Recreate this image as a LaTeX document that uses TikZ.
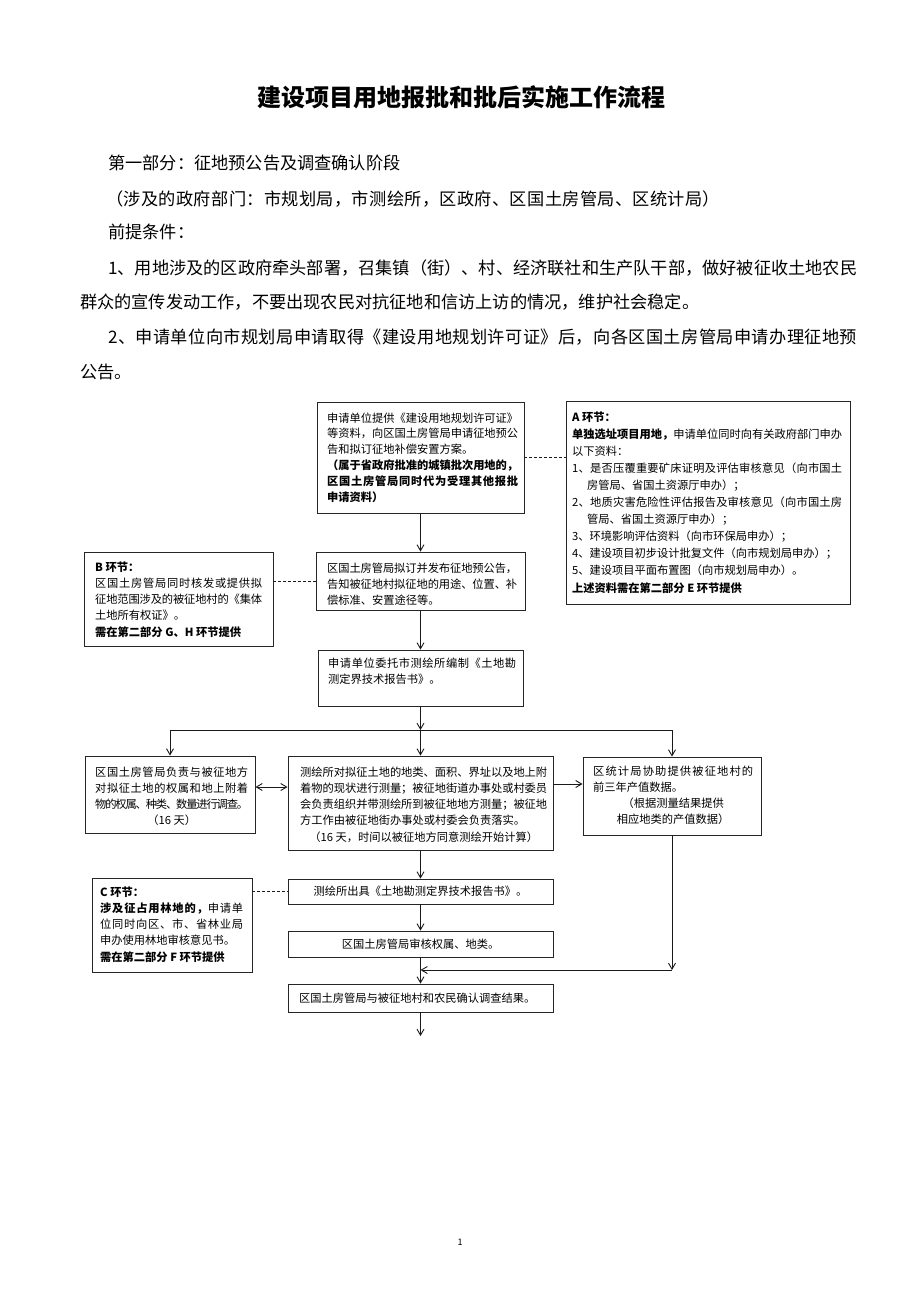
\documentclass[tikz,border=0pt]{standalone}
\usepackage{fontspec}
\setmainfont{Noto Sans CJK SC}
\usetikzlibrary{arrows.meta,calc}
\XeTeXinterchartokenstate=1
\count255="4E00
\loop\XeTeXcharclass\count255=1 \advance\count255 by 1 \ifnum\count255<"A000 \repeat
\XeTeXcharclass"3001=3 \XeTeXcharclass"3002=3 \XeTeXcharclass"FF0C=3
\XeTeXcharclass"FF1A=3 \XeTeXcharclass"FF1B=3 \XeTeXcharclass"FF09=3
\XeTeXcharclass"300B=3 \XeTeXcharclass"FF08=2 \XeTeXcharclass"300A=2
\def\cjkg{\nobreak\hskip0pt plus 4pt minus 1.5pt\relax}
\XeTeXinterchartoks 0 1 = {\cjkg}
\XeTeXinterchartoks 0 2 = {\cjkg}
\XeTeXinterchartoks 0 3 = {\cjkg}
\XeTeXinterchartoks 1 0 = {\cjkg}
\XeTeXinterchartoks 1 1 = {\cjkg}
\XeTeXinterchartoks 1 2 = {\cjkg}
\XeTeXinterchartoks 1 3 = {\cjkg}
\XeTeXinterchartoks 2 0 = {\cjkg}
\XeTeXinterchartoks 2 1 = {\cjkg}
\XeTeXinterchartoks 2 2 = {\cjkg}
\XeTeXinterchartoks 2 3 = {\cjkg}
\XeTeXinterchartoks 3 0 = {\cjkg}
\XeTeXinterchartoks 3 1 = {\cjkg}
\XeTeXinterchartoks 3 2 = {\cjkg}
\XeTeXinterchartoks 3 3 = {\cjkg}
\begin{document}
\begin{tikzpicture}[x=1pt,y=-1pt,
  box/.style={draw=black!85, line width=0.9pt, inner sep=0pt},
  txt/.style={inner sep=0pt, anchor=base west, align=justify, font=\fontsize{11.25pt}{16.3pt}\selectfont},
  txtA/.style={txt, font=\fontsize{11.25pt}{17.1pt}\selectfont},
  txt1/.style={txt, font=\fontsize{11.25pt}{15.8pt}\selectfont},
  ctxt/.style={inner sep=0pt, font=\fontsize{11.25pt}{16.3pt}\selectfont},
  body/.style={anchor=base west, inner sep=0pt, font=\fontsize{17.2pt}{20pt}\selectfont},
  ln/.style={line width=0.9pt, black!90},
  arr/.style={ln, -{Straight Barb[length=6pt,width=7pt]}},
  darr/.style={ln, {Straight Barb[length=6pt,width=7pt]}-{Straight Barb[length=6pt,width=7pt]}},
  dsh/.style={ln, dash pattern=on 3pt off 2pt}
]
\useasboundingbox (0,0) rectangle (920,1302);
\fill[white] (0,0) rectangle (920,1302);

% title and text
\node[anchor=base, inner sep=0pt, font=\fontsize{24pt}{28pt}\selectfont\bfseries] (title) at (461.5,106) {建设项目用地报批和批后实施工作流程};
\node[body] (p0) at (108,169.5) {第一部分：征地预公告及调查确认阶段};
\node[body] (p1) at (106,205.5) {\hbox to 614pt{（涉及的政府部门：市规划局，市测绘所，区政府、区国土房管局、区统计局）}};
\node[body] (p2) at (108,238.5) {前提条件：};
\node[body] (p3) at (108,274.5) {\hbox to 749pt{1、用地涉及的区政府牵头部署，召集镇（街）、村、经济联社和生产队干部，做好被征收土地农民}};
\node[body] (p4) at (80,308.5) {群众的宣传发动工作，不要出现农民对抗征地和信访上访的情况，维护社会稳定。};
\node[body] (p5) at (108,343.5) {\hbox to 749pt{2、申请单位向市规划局申请取得《建设用地规划许可证》后，向各区国土房管局申请办理征地预}};
\node[body] (p6) at (80,378.5) {公告。};

% boxes
\node[box, minimum width=207pt, minimum height=111pt] (b1) at (420.5,457.5) {};
\node[box, minimum width=284pt, minimum height=203pt] (bA) at (708,502.5) {};
\node[box, minimum width=209pt, minimum height=58pt] (b2) at (420.5,581) {};
\node[box, minimum width=189pt, minimum height=94pt] (bB) at (178.5,599) {};
\node[box, minimum width=205pt, minimum height=56pt] (b3) at (420.5,678) {};
\node[box, minimum width=170pt, minimum height=77pt] (r4L) at (170,794.5) {};
\node[box, minimum width=265pt, minimum height=94pt] (r4C) at (420.5,803) {};
\node[box, minimum width=178pt, minimum height=78pt] (r4R) at (672,796) {};
\node[box, minimum width=265pt, minimum height=25pt] (b5) at (420.5,891.5) {};
\node[box, minimum width=265pt, minimum height=26pt] (b6) at (420.5,944) {};
\node[box, minimum width=160pt, minimum height=94pt] (bC) at (172,925) {};
\node[box, minimum width=265pt, minimum height=28pt] (b7) at (420.5,998) {};

% box texts
\node[txt1, text width=191pt] (t1) at (327,422) {申请单位提供《建设用地规划许可证》\linebreak 等资料，向区国土房管局申请征地预公\linebreak 告和拟订征地补偿安置方案。\par{\bfseries （属于省政府批准的城镇批次用地的，\linebreak 区国土房管局同时代为受理其他报批\linebreak 申请资料）}};
\node[txtA, text width=270pt] (tA) at (572,421) {{\bfseries A 环节：}\\{\bfseries 单独选址项目用地，}申请单位同时向有关政府部门申办\linebreak 以下资料：\\1、是否压覆重要矿床证明及评估审核意见（向市国土\linebreak\hspace*{15pt}房管局、省国土资源厅申办）；\\2、地质灾害危险性评估报告及审核意见（向市国土房\linebreak\hspace*{15pt}管局、省国土资源厅申办）；\\3、环境影响评估资料（向市环保局申办）；\\4、建设项目初步设计批复文件（向市规划局申办）；\\5、建设项目平面布置图（向市规划局申办）。\\{\bfseries 上述资料需在第二部分 E 环节提供}};
\node[txt, text width=167pt] (tB) at (95,571) {{\bfseries B 环节：}\\区国土房管局同时核发或提供拟\linebreak 征地范围涉及的被征地村的《集体\linebreak 土地所有权证》。\\{\bfseries 需在第二部分 G、H 环节提供}};
\node[txt, text width=190pt] (t2) at (327,572) {区国土房管局拟订并发布征地预公告，\linebreak 告知被征地村拟征地的用途、位置、补\linebreak 偿标准、安置途径等。};
\node[txt, text width=188pt] (t3) at (328,667) {申请单位委托市测绘所编制《土地勘\linebreak 测定界技术报告书》。};
\node[txt, text width=153pt] (tL) at (95,776) {区国土房管局负责与被征地方\linebreak 对拟征土地的权属和地上附着\linebreak 物的权属、种类、数量进行调查。\par\makebox[\hsize][c]{（16 天）}};
\node[txt, text width=247pt] (tC) at (300,776) {测绘所对拟征土地的地类、面积、界址以及地上附\linebreak 着物的现状进行测量；被征地街道办事处或村委员\linebreak 会负责组织并带测绘所到被征地地方测量；被征地\linebreak 方工作由被征地街办事处或村委会负责落实。\par\makebox[\hsize][c]{（16 天，时间以被征地方同意测绘开始计算）}};
\node[txt, text width=160pt] (tR) at (593,775) {区统计局协助提供被征地村的\linebreak 前三年产值数据。\par\makebox[\hsize][c]{（根据测量结果提供}\par\makebox[\hsize][c]{相应地类的产值数据）}};
\node[ctxt] (t5) at (b5) {测绘所出具《土地勘测定界技术报告书》。};
\node[ctxt] (t6) at (b6) {区国土房管局审核权属、地类。};
\node[txt, text width=143pt] (tCC) at (100,896) {{\bfseries C 环节：}\\{\bfseries 涉及征占用林地的，}申请单\linebreak 位同时向区、市、省林业局\linebreak 申办使用林地审核意见书。\\{\bfseries 需在第二部分 F 环节提供}};
\node[txt] (t7) at (299,1002) {区国土房管局与被征地村和农民确认调查结果。};

\node[inner sep=0pt, font=\fontsize{9pt}{10pt}\selectfont] (pg) at (460,1242) {1};

% connectors
\draw[dsh] (b1.east) -- (b1.east -| bA.west);
\draw[arr] (b1.south) -- (b2.north);
\draw[dsh] (b2.west -| bB.east) -- (b2.west);
\draw[arr] (b2.south) -- (b3.north);
\coordinate (split) at (420.5,730);
\draw[arr] (b3.south) -- (split);
\draw[ln] (split -| r4L.north) -- (split -| r4R.north);
\draw[arr] (split -| r4L.north) -- (r4L.north);
\draw[arr] (split) -- (r4C.north);
\draw[arr] (split -| r4R.north) -- (r4R.north);
\draw[darr] ([yshift=7.5pt]r4L.east) -- ([yshift=7.5pt]r4L.east -| r4C.west);
\draw[arr] ([yshift=12pt]r4R.west -| r4C.east) -- ([yshift=12pt]r4R.west);
\draw[arr] (r4C.south) -- (b5.north);
\draw[dsh] (b5.west -| bC.east) -- (b5.west);
\draw[arr] (b5.south) -- (b6.north);
\draw[arr] (b6.south) -- (b7.north);
\coordinate (j) at (672,970);
\draw[arr] (r4R.south) -- (j);
\draw[arr] (j) -- (j -| b6.south);
\coordinate (fin) at (420.5,1036);
\draw[arr] (b7.south) -- (fin);
\end{tikzpicture}
\end{document}
